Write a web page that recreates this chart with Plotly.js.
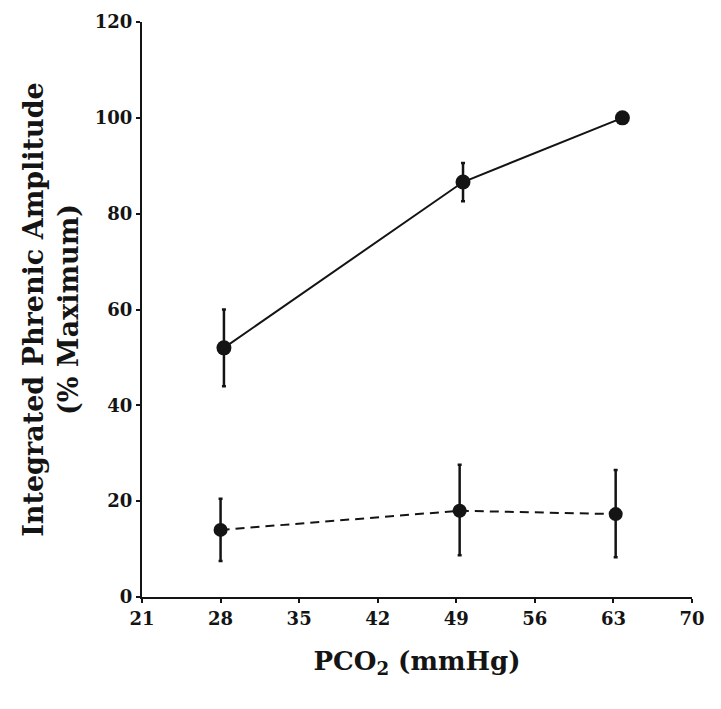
<!DOCTYPE html>
<html>
<head>
<meta charset="utf-8">
<script src="https://cdn.plot.ly/plotly-3.0.1.min.js"></script>
<style>html,body{margin:0;padding:0;background:#fff;}#chart{width:721px;height:709px;}</style>
</head>
<body>
<div id="chart"></div>
<script>
// Data
const pco2Solid = [28.3, 49.6, 63.8];
const ampSolid = [52, 86.6, 100];
const errSolid = [8, 4, 0];

const pco2Dashed = [28, 49.3, 63.2];
const ampDashed = [14, 18, 17.3];
const errDashedPlus = [6.5, 9.6, 9.2];
const errDashedMinus = [6.5, 9.3, 9.0];

const xTicks = [21, 28, 35, 42, 49, 56, 63, 70];
const yTicks = [0, 20, 40, 60, 80, 100, 120];

const ink = '#141414';
const fontFam = '"DejaVu Serif", "Liberation Serif", serif';

const traces = [
  {
    x: pco2Solid, y: ampSolid, type: 'scatter', mode: 'lines+markers',
    line: {color: ink, width: 2},
    marker: {color: ink, size: 15},
    error_y: {type: 'data', array: errSolid, visible: true, color: ink, thickness: 2.5, width: 2},
    showlegend: false
  },
  {
    x: pco2Dashed, y: ampDashed, type: 'scatter', mode: 'lines+markers',
    line: {color: ink, width: 2, dash: '9px,6px'},
    marker: {color: ink, size: 14},
    error_y: {type: 'data', array: errDashedPlus, arrayminus: errDashedMinus, symmetric: false, visible: true, color: ink, thickness: 2.5, width: 2},
    showlegend: false
  }
];

const layout = {
  width: 721, height: 709,
  margin: {l: 142, r: 29, t: 22, b: 112},
  paper_bgcolor: '#fff', plot_bgcolor: '#fff',
  font: {family: fontFam, color: ink, size: 16},
  xaxis: {
    range: [21, 70], tickvals: xTicks, ticktext: xTicks.map(String),
    showgrid: false, zeroline: false, showline: true, linecolor: ink, linewidth: 2,
    ticks: 'outside', ticklen: 4, tickwidth: 2, tickcolor: ink,
    tickfont: {family: fontFam, size: 18, color: ink, weight: 'bold'},
    title: {text: 'PCO<sub>2</sub> (mmHg)', font: {family: fontFam, size: 26, color: ink, weight: 'bold'}, standoff: 24}
  },
  yaxis: {
    range: [0, 120], tickvals: yTicks, ticktext: yTicks.map(String),
    showgrid: false, zeroline: false, showline: true, linecolor: ink, linewidth: 2,
    ticks: 'outside', ticklen: 4, tickwidth: 2, tickcolor: ink,
    tickfont: {family: fontFam, size: 18, color: ink, weight: 'bold'},
    title: {text: 'Integrated Phrenic Amplitude<br>(% Maximum)', font: {family: fontFam, size: 27, color: ink, weight: 'bold'}, standoff: 8}
  }
};

Plotly.newPlot('chart', traces, layout, {staticPlot: true, displayModeBar: false});
</script>
</body>
</html>
